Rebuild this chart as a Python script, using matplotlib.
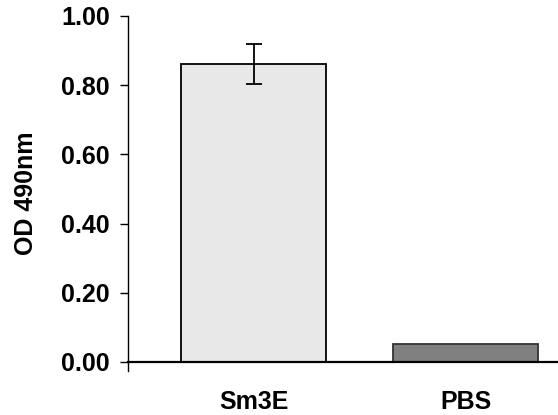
import matplotlib
matplotlib.use("Agg")
import matplotlib.pyplot as plt
import numpy as np

# data
groups = ["Sm3E", "PBS"]
od490 = [0.861, 0.053]
od_err = [0.058, 0.0]
bar_colors = ["#e8e8e8", "#808080"]
edge_colors = ["#000000", "#333333"]

plt.rcParams['font.family'] = ['Liberation Sans', 'DejaVu Sans']
plt.rcParams['font.weight'] = 'bold'

fig = plt.figure(figsize=(5.58, 4.15), dpi=100)
ax = fig.add_axes([128/558, 1 - 370.6/415, 1 - 128/558, (370.6 - 16)/415])

x = np.arange(len(groups))
ax.bar(x, od490, width=0.684, color=bar_colors, edgecolor=edge_colors,
       linewidth=1.3, zorder=2)
ax.errorbar(x[:1], od490[:1], yerr=od_err[:1], fmt='none', ecolor='black',
            elinewidth=1.3, capsize=5.5, capthick=1.3, zorder=3)

ax.set_xlim(-0.592, 1.436)
ax.set_ylim(-0.025, 1.0)
ax.set_yticks(np.arange(0, 1.01, 0.2))
ax.set_yticklabels(["%.2f" % v for v in np.arange(0, 1.01, 0.2)])
ax.set_xticks(x)
ax.set_xticklabels(groups)

ax.spines['top'].set_visible(False)
ax.spines['right'].set_visible(False)
ax.spines['bottom'].set_position(('data', 0))
ax.spines['left'].set_linewidth(1.0)
ax.spines['bottom'].set_linewidth(1.6)

ax.tick_params(axis='y', direction='out', length=6, width=1.0, labelsize=18, pad=7)
ax.tick_params(axis='x', length=0, labelsize=18, pad=20)

ax.set_ylabel("OD 490nm", fontsize=18, fontweight='bold', labelpad=17)

fig.savefig("out.png", dpi=100)
